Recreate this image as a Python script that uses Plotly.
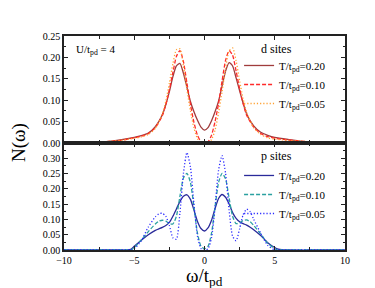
import plotly.graph_objects as go
from plotly.subplots import make_subplots

# ---------------- data ----------------
omega_d = [-10, -9, -8, -7, -6, -5, -4.5, -4, -3.5, -3, -2.75, -2.5, -2.25, -2, -1.75,
           -1.5, -1.25, -1, -0.75, -0.5, -0.25, 0, 0.25, 0.5, 0.75, 1, 1.25, 1.5, 1.75,
           2, 2.25, 2.5, 2.75, 3, 3.5, 4, 4.5, 5, 6, 7, 8, 9, 10]
d_T020 = [0.000, 0.000, 0.001, 0.003, 0.007, 0.013, 0.017, 0.023, 0.038, 0.066, 0.090,
          0.120, 0.155, 0.180, 0.186, 0.163, 0.130, 0.097, 0.073, 0.053, 0.037, 0.030,
          0.036, 0.052, 0.073, 0.098, 0.133, 0.168, 0.188, 0.180, 0.152, 0.122, 0.093,
          0.068, 0.040, 0.025, 0.018, 0.013, 0.008, 0.004, 0.002, 0.001, 0.001]
d_T010 = [0.000, 0.000, 0.001, 0.003, 0.006, 0.012, 0.016, 0.022, 0.036, 0.064, 0.090,
          0.125, 0.165, 0.202, 0.216, 0.190, 0.140, 0.090, 0.048, 0.018, 0.003, 0.000,
          0.003, 0.018, 0.050, 0.092, 0.145, 0.193, 0.216, 0.205, 0.168, 0.127, 0.092,
          0.065, 0.037, 0.022, 0.015, 0.011, 0.007, 0.004, 0.002, 0.001, 0.001]
d_T005 = [0.000, 0.000, 0.001, 0.003, 0.006, 0.011, 0.014, 0.020, 0.034, 0.068, 0.098,
          0.140, 0.185, 0.218, 0.220, 0.180, 0.125, 0.075, 0.035, 0.010, 0.000, 0.000,
          0.000, 0.008, 0.030, 0.070, 0.120, 0.175, 0.215, 0.222, 0.192, 0.145, 0.103,
          0.072, 0.036, 0.020, 0.012, 0.009, 0.006, 0.004, 0.002, 0.001, 0.000]

omega_p = [-10, -8, -6, -5.5, -5.25, -5, -4.5, -4, -3.5, -3.25, -3, -2.75, -2.5, -2.25,
           -2, -1.75, -1.5, -1.25, -1, -0.75, -0.5, -0.25, 0, 0.25, 0.5, 0.75, 1, 1.25,
           1.5, 1.75, 2, 2.25, 2.5, 2.75, 3, 3.25, 3.5, 4, 4.5, 5, 5.25, 5.5, 6, 8, 10]
p_T020 = [0, 0, 0, 0, 0.002, 0.012, 0.032, 0.050, 0.064, 0.069, 0.074, 0.080, 0.090,
          0.110, 0.134, 0.158, 0.175, 0.180, 0.165, 0.130, 0.093, 0.070, 0.062, 0.072,
          0.097, 0.135, 0.168, 0.181, 0.172, 0.150, 0.122, 0.103, 0.092, 0.086, 0.081,
          0.074, 0.066, 0.047, 0.024, 0.008, 0.003, 0.001, 0, 0, 0]
p_T010 = [0, 0, 0, 0, 0, 0.008, 0.033, 0.060, 0.085, 0.094, 0.097, 0.094, 0.086, 0.085,
          0.110, 0.175, 0.235, 0.250, 0.220, 0.140, 0.055, 0.012, 0.004, 0.012, 0.055,
          0.140, 0.220, 0.250, 0.232, 0.170, 0.110, 0.086, 0.088, 0.096, 0.098, 0.092,
          0.080, 0.052, 0.022, 0.004, 0, 0, 0, 0, 0]
p_T005 = [0, 0, 0, 0, 0, 0.004, 0.030, 0.075, 0.108, 0.118, 0.120, 0.110, 0.080, 0.040,
          0.035, 0.120, 0.250, 0.318, 0.270, 0.150, 0.045, 0.005, 0.000, 0.004, 0.040,
          0.140, 0.260, 0.308, 0.250, 0.130, 0.045, 0.030, 0.070, 0.115, 0.133, 0.125,
          0.100, 0.055, 0.015, 0.000, 0, 0, 0, 0, 0]

legend_labels = ["T/t<sub>pd</sub>=0.20", "T/t<sub>pd</sub>=0.10", "T/t<sub>pd</sub>=0.05"]
x_ticks = [-10, -5, 0, 5, 10]
y_ticks_top = [0.00, 0.05, 0.10, 0.15, 0.20, 0.25]
y_ticks_bot = [0.00, 0.05, 0.10, 0.15, 0.20, 0.25, 0.30]

# ---------------- figure ----------------
FONT = "Liberation Serif"
fig = make_subplots(rows=2, cols=1, shared_xaxes=True, vertical_spacing=0)

DASH = "4px,2px"
DOT = "1.2px,2px"
d_styles = [("#a03c3c", "solid"), ("#ff2a2a", DASH), ("#ffa030", DOT)]
p_styles = [("#2a2a9a", "solid"), ("#2aa0a0", DASH), ("#2a2aff", DOT)]

for vals, lab, (c, dsh) in zip([d_T020, d_T010, d_T005], legend_labels, d_styles):
    fig.add_trace(go.Scatter(x=omega_d, y=vals, mode="lines", name=lab,
                             line=dict(color=c, dash=dsh, width=1.3, shape="spline", smoothing=0.6),
                             legend="legend"), row=1, col=1)
for vals, lab, (c, dsh) in zip([p_T020, p_T010, p_T005], legend_labels, p_styles):
    fig.add_trace(go.Scatter(x=omega_p, y=vals, mode="lines", name=lab,
                             line=dict(color=c, dash=dsh, width=1.3, shape="spline", smoothing=0.6),
                             legend="legend2"), row=2, col=1)

axis_common = dict(showline=True, linecolor="#222", linewidth=1.5, mirror="ticks",
                   ticks="inside", ticklen=4, tickwidth=1, tickcolor="#222",
                   showgrid=False, zeroline=False, automargin=False,
                   tickfont=dict(family=FONT, size=10, color="black"))

fig.update_xaxes(range=[-10, 10], tickvals=x_ticks,
                 minor=dict(dtick=2.5, tick0=0, ticks="inside", ticklen=3, tickcolor="#222"),
                 **axis_common)
fig.update_xaxes(showticklabels=False, row=1, col=1)
fig.update_xaxes(showticklabels=True, row=2, col=1)

fig.update_yaxes(range=[0, 0.25], tickvals=y_ticks_top, tickformat=".2f",
                 minor=dict(dtick=0.025, tick0=0, ticks="inside", ticklen=2, tickcolor="#222"),
                 row=1, col=1, **axis_common)
fig.update_yaxes(range=[0, 0.349], tickvals=y_ticks_bot, tickformat=".2f",
                 minor=dict(dtick=0.025, tick0=0, ticks="inside", ticklen=2, tickcolor="#222"),
                 row=2, col=1, **axis_common)

leg_common = dict(xanchor="left", yanchor="top", bgcolor="rgba(0,0,0,0)",
                  font=dict(family=FONT, size=11, color="black"),
                  itemwidth=30, tracegroupgap=0)
fig.update_layout(
    template="none",
    width=375, height=288,
    margin=dict(l=56, r=38, t=28, b=46),
    paper_bgcolor="white", plot_bgcolor="white",
    font=dict(family=FONT, color="black"),
    legend=dict(x=0.623, y=0.93, **leg_common),
    legend2=dict(x=0.623, y=0.416, **leg_common),
)

fig.add_annotation(text="d sites", xref="paper", yref="paper", x=0.695, y=0.938,
                   xanchor="left", yanchor="middle", showarrow=False,
                   font=dict(family=FONT, size=12, color="black"))
fig.add_annotation(text="p sites", xref="paper", yref="paper", x=0.695, y=0.439,
                   xanchor="left", yanchor="middle", showarrow=False,
                   font=dict(family=FONT, size=12, color="black"))
fig.add_annotation(text="U/t<sub>pd</sub> = 4", xref="paper", yref="paper",
                   x=0.035, y=0.935, xanchor="left", yanchor="middle", showarrow=False,
                   font=dict(family=FONT, size=11, color="black"))
fig.add_annotation(text="N(ω)", xref="paper", yref="paper", x=-0.16, y=0.5,
                   xanchor="center", yanchor="middle", textangle=-90, showarrow=False,
                   font=dict(family=FONT, size=19, color="black"))
fig.add_annotation(text="ω/t<sub>pd</sub>", xref="paper", yref="paper", x=0.5, y=-0.06,
                   xanchor="center", yanchor="top", showarrow=False,
                   font=dict(family=FONT, size=19, color="black"))

fig.write_html("out.html")
